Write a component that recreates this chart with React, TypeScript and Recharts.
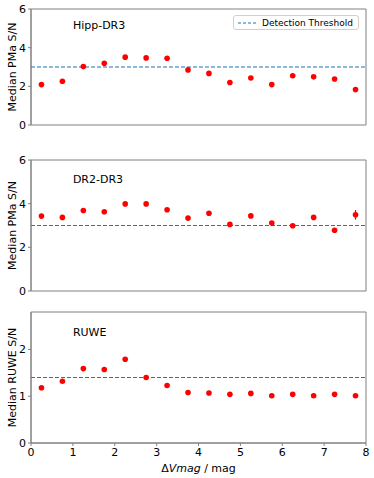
import React from "react";
import {
  ComposedChart,
  Scatter,
  XAxis,
  YAxis,
  ErrorBar,
  ReferenceLine,
  ReferenceArea,
  ReferenceDot,
  Legend,
} from "recharts";

const magBins = [0.25, 0.75, 1.25, 1.75, 2.25, 2.75, 3.25, 3.75, 4.25, 4.75, 5.25, 5.75, 6.25, 6.75, 7.25, 7.75];

const hippSN = [2.09, 2.26, 3.02, 3.19, 3.51, 3.47, 3.45, 2.85, 2.67, 2.2, 2.43, 2.09, 2.55, 2.49, 2.38, 1.83];
const hippErr = [0.03, 0.03, 0.03, 0.03, 0.03, 0.03, 0.03, 0.03, 0.04, 0.04, 0.04, 0.05, 0.05, 0.08, 0.08, 0.05];

const dr2SN = [3.43, 3.37, 3.69, 3.63, 3.99, 3.99, 3.72, 3.34, 3.56, 3.05, 3.44, 3.11, 2.99, 3.37, 2.78, 3.49];
const dr2Err = [0.03, 0.03, 0.03, 0.03, 0.03, 0.03, 0.03, 0.03, 0.04, 0.04, 0.05, 0.05, 0.06, 0.1, 0.07, 0.22];

const ruweSN = [1.18, 1.32, 1.59, 1.57, 1.79, 1.4, 1.23, 1.08, 1.07, 1.04, 1.06, 1.01, 1.04, 1.01, 1.04, 1.01];
const ruweErr = [0.01, 0.01, 0.01, 0.01, 0.01, 0.01, 0.01, 0.01, 0.01, 0.01, 0.01, 0.01, 0.01, 0.01, 0.01, 0.01];

const pmaTicks = [0, 2, 4, 6];
const ruweTicks = [0, 1, 2];
const xTicks = [0, 1, 2, 3, 4, 5, 6, 7, 8];

const FONT = "DejaVu Sans, sans-serif";
const SPINE = "#808080";

const toRows = (ys: number[], errs: number[]) =>
  magBins.map((x, i) => ({ x, y: ys[i], err: errs[i] }));

const Dot = (p: any) => <circle cx={p.cx} cy={p.cy} r={2.8} fill="#ff0000" />;

const ThresholdLegend = () => (
  <div
    style={{
      border: "1px solid #d0d0d0",
      borderRadius: 3,
      background: "#fff",
      width: 126,
      height: 15,
      boxSizing: "border-box",
      display: "flex",
      alignItems: "center",
      fontFamily: FONT,
      fontSize: 9,
      color: "#000",
    }}
  >
    <svg width={28} height={10}>
      <line x1={4} x2={22} y1={5} y2={5} stroke="#1f77b4" strokeWidth={1.2} strokeDasharray="3 2" />
    </svg>
    <span style={{ whiteSpace: "nowrap" }}>Detection Threshold</span>
  </div>
);

interface PanelProps {
  name: string;
  ys: number[];
  errs: number[];
  yMax: number;
  yTicks: number[];
  threshold: number;
  nameY: number;
  yLabel: string;
  top: number;
  showX?: boolean;
  showLegend?: boolean;
}

function Panel({ name, ys, errs, yMax, yTicks, threshold, nameY, yLabel, top, showX, showLegend }: PanelProps) {
  const height = showX ? 478 - top : 150;
  return (
    <div style={{ position: "absolute", left: 0, top }}>
      <ComposedChart
        width={374}
        height={height}
        data={toRows(ys, errs)}
        margin={{ top: showX ? 12 : 9, right: 8, bottom: showX ? 0 : 10, left: 0 }}
      >
        <XAxis
          dataKey="x"
          type="number"
          domain={[0, 8]}
          ticks={xTicks}
          hide={!showX}
          height={35}
          tickSize={3}
          axisLine={{ stroke: SPINE }}
          tickLine={{ stroke: SPINE }}
          tick={{ fill: "#000", fontSize: 11, fontFamily: FONT }}
          label={(props: any) => {
            const vb = props.viewBox;
            return (
              <text
                x={vb.x + vb.width / 2}
                y={vb.y + 29}
                textAnchor="middle"
                fontSize={11}
                fontFamily={FONT}
                fill="#000"
              >
                Δ<tspan fontStyle="italic">Vmag</tspan> / mag
              </text>
            );
          }}
        />
        <YAxis
          dataKey="y"
          type="number"
          domain={[0, yMax]}
          ticks={yTicks}
          width={31}
          tickSize={3}
          axisLine={{ stroke: SPINE }}
          tickLine={{ stroke: SPINE }}
          tick={{ fill: "#000", fontSize: 11, fontFamily: FONT }}
          label={(props: any) => {
            const vb = props.viewBox;
            const cy = vb.y + vb.height / 2;
            return (
              <text
                x={12}
                y={cy}
                transform={`rotate(-90, 12, ${cy})`}
                textAnchor="middle"
                dominantBaseline="central"
                fontSize={11}
                fontFamily={FONT}
                fill="#000"
              >
                {yLabel}
              </text>
            );
          }}
        />
        <ReferenceArea x1={0} x2={8} y1={0} y2={yMax} fill="none" stroke={SPINE} strokeWidth={1} ifOverflow="visible" />
        <ReferenceLine y={threshold} stroke="#1f77b4" strokeWidth={1.2} strokeDasharray="4 2" />
        <ReferenceDot
          x={1}
          y={nameY}
          r={0}
          fill="none"
          stroke="none"
          label={(props: any) => (
            <text
              x={props.viewBox.x}
              y={props.viewBox.y}
              textAnchor="start"
              dominantBaseline="central"
              fontSize={11}
              fontFamily={FONT}
              fill="#000"
            >
              {name}
            </text>
          )}
        />
        <Scatter dataKey="y" shape={Dot} isAnimationActive={false}>
          <ErrorBar dataKey="err" direction="y" width={0} stroke="#ff0000" strokeWidth={1.2} />
        </Scatter>
        {showLegend && (
          <Legend
            content={<ThresholdLegend />}
            wrapperStyle={{ position: "absolute", top: 15, left: 233, width: 126 }}
          />
        )}
      </ComposedChart>
    </div>
  );
}

export default function App() {
  return (
    <div style={{ position: "absolute", left: 0, top: 0, width: 374, height: 478, background: "#fff" }}>
      <Panel
        name="Hipp-DR3"
        ys={hippSN}
        errs={hippErr}
        yMax={6}
        yTicks={pmaTicks}
        threshold={3}
        nameY={5.15}
        yLabel="Median PMa S/N"
        top={0}
        showLegend
      />
      <Panel
        name="DR2-DR3"
        ys={dr2SN}
        errs={dr2Err}
        yMax={6}
        yTicks={pmaTicks}
        threshold={3}
        nameY={5.1}
        yLabel="Median PMa S/N"
        top={151}
      />
      <Panel
        name="RUWE"
        ys={ruweSN}
        errs={ruweErr}
        yMax={2.8}
        yTicks={ruweTicks}
        threshold={1.4}
        nameY={2.37}
        yLabel="Median RUWE S/N"
        top={300}
        showX
      />
    </div>
  );
}
